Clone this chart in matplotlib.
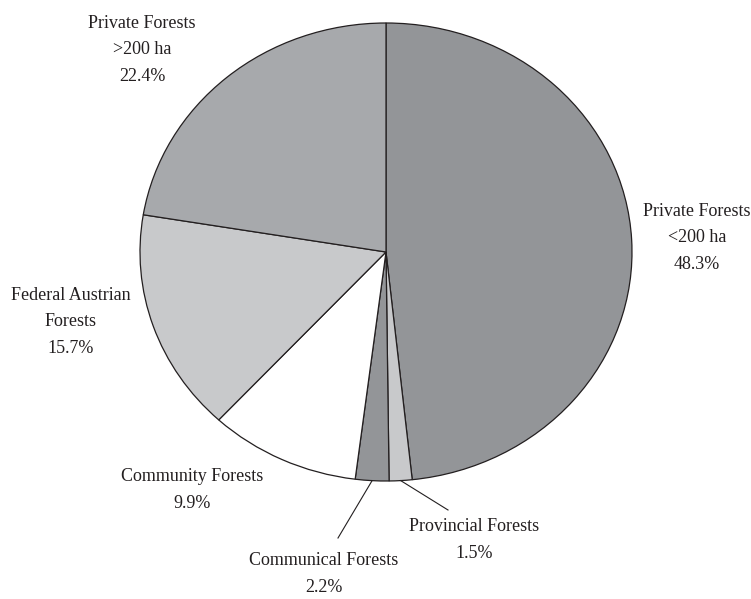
import numpy as np
import matplotlib.pyplot as plt

# ownership shares of the forest area (clockwise from 12 o'clock)
labels = ['Private Forests\n<200 ha', 'Provincial Forests', 'Communical Forests',
          'Community Forests', 'Federal Austrian\nForests', 'Private Forests\n>200 ha']
shares = [48.3, 1.5, 2.2, 9.9, 15.7, 22.4]
colors = ['#939598', '#c8c9cb', '#939598', '#ffffff', '#c8c9cb', '#a7a9ac']

# label anchor positions in pixels (x, y from top) and leader line end points
label_px = [(697, 238), (474, 540), (324, 574), (192, 490), (71, 322), (142, 50)]
leader_end_px = [None, (448, 510), (338, 538), None, None, None]

W, H = 751, 599
cx, cy = 386, 252        # pie centre in pixels
rx, ry = 246, 229        # horizontal / vertical radius in pixels

fig = plt.figure(figsize=(W / 100, H / 100), dpi=100)
ax = fig.add_axes([0, 0, 1, 1])

wedges, _ = ax.pie(shares, colors=colors, startangle=90, counterclock=False,
                   wedgeprops=dict(edgecolor='#231f20', linewidth=0.9))
ax.set_aspect('auto')
ax.set_xlim(-cx / rx, (W - cx) / rx)
ax.set_ylim((cy - H) / ry, cy / ry)
ax.axis('off')


def to_data(px, py):
    return (px - cx) / rx, (cy - py) / ry


for i, (lab, val) in enumerate(zip(labels, shares)):
    tx, ty = to_data(*label_px[i])
    ax.text(tx, ty, '%s\n%.1f%%' % (lab, val), ha='center', va='center',
            family='Liberation Serif', fontsize=13, color='#231f20', linespacing=1.7)
    if leader_end_px[i] is not None:
        w = wedges[i]
        mid = np.deg2rad((w.theta1 + w.theta2) / 2)
        ex, ey = to_data(*leader_end_px[i])
        ax.plot([np.cos(mid), ex], [np.sin(mid), ey], color='#231f20', lw=0.8)

fig.savefig('out.png', dpi=100)
